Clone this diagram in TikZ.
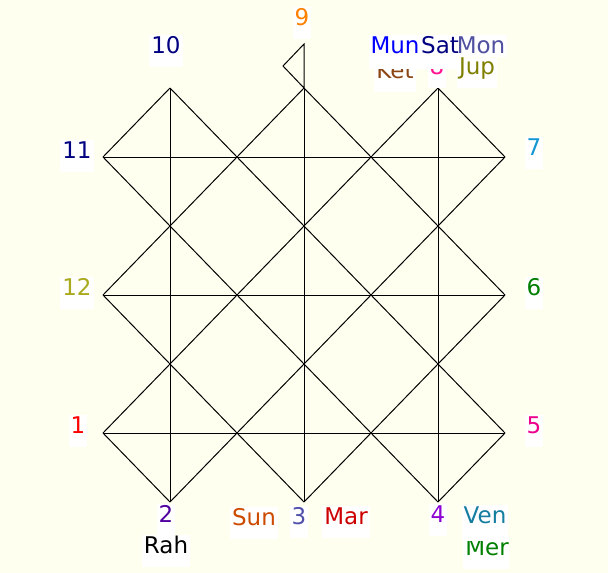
\documentclass[tikz,border=0pt]{standalone}
\usepackage{fontspec}
\setmainfont{DejaVu Sans}
\definecolor{ivorybg}{RGB}{255,255,240}
\definecolor{cnine}{RGB}{255,128,0}
\definecolor{cnavy}{RGB}{0,0,128}
\definecolor{ctwelve}{RGB}{170,170,30}
\definecolor{ctwo}{RGB}{80,0,160}
\definecolor{csun}{RGB}{204,75,0}
\definecolor{cthree}{RGB}{80,80,170}
\definecolor{cmar}{RGB}{204,0,0}
\definecolor{cfour}{RGB}{140,0,210}
\definecolor{cven}{RGB}{20,125,160}
\definecolor{cgreen}{RGB}{0,128,0}
\definecolor{cseven}{RGB}{20,150,210}
\definecolor{cket}{RGB}{139,69,19}
\definecolor{ceight}{RGB}{255,20,147}
\definecolor{cmon}{RGB}{80,80,160}
\definecolor{cjup}{RGB}{128,128,0}
\begin{document}
\begin{tikzpicture}[x=1pt,y=-1pt,
  lab/.style={fill=white, inner xsep=2pt, inner ysep=1pt, text height=17pt,
    text depth=13pt, anchor=base, font=\fontsize{23}{27}\selectfont},
  ln/.style={draw=black, line width=1pt, line join=miter}]
\fill[ivorybg] (0,0) rectangle (608,573);
\useasboundingbox (0,0) rectangle (608,573);
% vertices
\coordinate (T1) at (170,88);
\coordinate (T3) at (304,88);
\coordinate (T5) at (438,88);
\coordinate (B1) at (170,502);
\coordinate (B3) at (304,502);
\coordinate (B5) at (438,502);
\coordinate (L1) at (103,157);
\coordinate (L3) at (103,295);
\coordinate (L5) at (103,433);
\coordinate (R1) at (505,157);
\coordinate (R3) at (505,295);
\coordinate (R5) at (505,433);
\coordinate (F1) at (304,44);
\coordinate (F2) at (283,66);
% horizontals and verticals
\draw[ln] (L1) -- (R1);
\draw[ln] (L3) -- (R3);
\draw[ln] (L5) -- (R5);
\draw[ln] (T1) -- (B1);
\draw[ln] (T3) -- (B3);
\draw[ln] (T5) -- (B5);
% diagonals
\draw[ln] (T1) -- (L1);
\draw[ln] (T3) -- (L3);
\draw[ln] (T5) -- (L5);
\draw[ln] (R1) -- (B1);
\draw[ln] (R3) -- (B3);
\draw[ln] (R5) -- (B5);
\draw[ln] (L5) -- (B1);
\draw[ln] (L3) -- (B3);
\draw[ln] (L1) -- (B5);
\draw[ln] (T1) -- (R5);
\draw[ln] (T3) -- (R3);
\draw[ln] (T5) -- (R1);
% flag
\draw[ln] (T3) -- (F1) -- (F2) -- (T3);
% labels
\node[lab, text=cnine] (n9) at (302,25) {9};
\node[lab, text=cnavy] (n10) at (166,53) {10};
\node[lab, text=cnavy] (n11) at (77,158) {11};
\node[lab, text=ctwelve] (n12) at (77,295) {12};
\node[lab, text=red] (n1) at (78,433) {1};
\node[lab, text=ctwo] (n2) at (166,522) {2};
\node[lab, text=black] (rah) at (166,553) {Rah};
\node[lab, text=csun] (sun) at (254,525) {Sun};
\node[lab, text=cthree] (n3) at (299,524) {3};
\node[lab, text=cmar] (mar) at (346,524) {Mar};
\node[lab, text=cfour] (n4) at (438,522) {4};
\begin{scope}
\clip (440,525) rectangle (509,573);
\node[lab, text=cgreen] (mer) at (487,555) {Mer};
\end{scope}
\node[lab, text=cven, text depth=17pt] (ven) at (485,523) {Ven};
\node[lab, text=magenta] (n5) at (534,433) {5};
\node[lab, text=cgreen] (n6) at (534,295) {6};
\node[lab, text=cseven] (n7) at (534,155) {7};
\node[lab, text=cket] (ket) at (395,78) {Ket};
\node[lab, text=ceight] (n8) at (437,74) {8};
\node[lab, text=blue, text depth=15pt] (mun) at (395,53) {Mun};
\node[lab, text=cmon, text depth=3pt] (mon) at (481,53) {Mon};
\node[lab, text=cnavy, text depth=15pt, inner xsep=0.5pt] (sat) at (440,53) {Sat};
\node[lab, text=cjup, text height=15pt] (jup) at (477,74) {Jup};
\end{tikzpicture}
\end{document}
